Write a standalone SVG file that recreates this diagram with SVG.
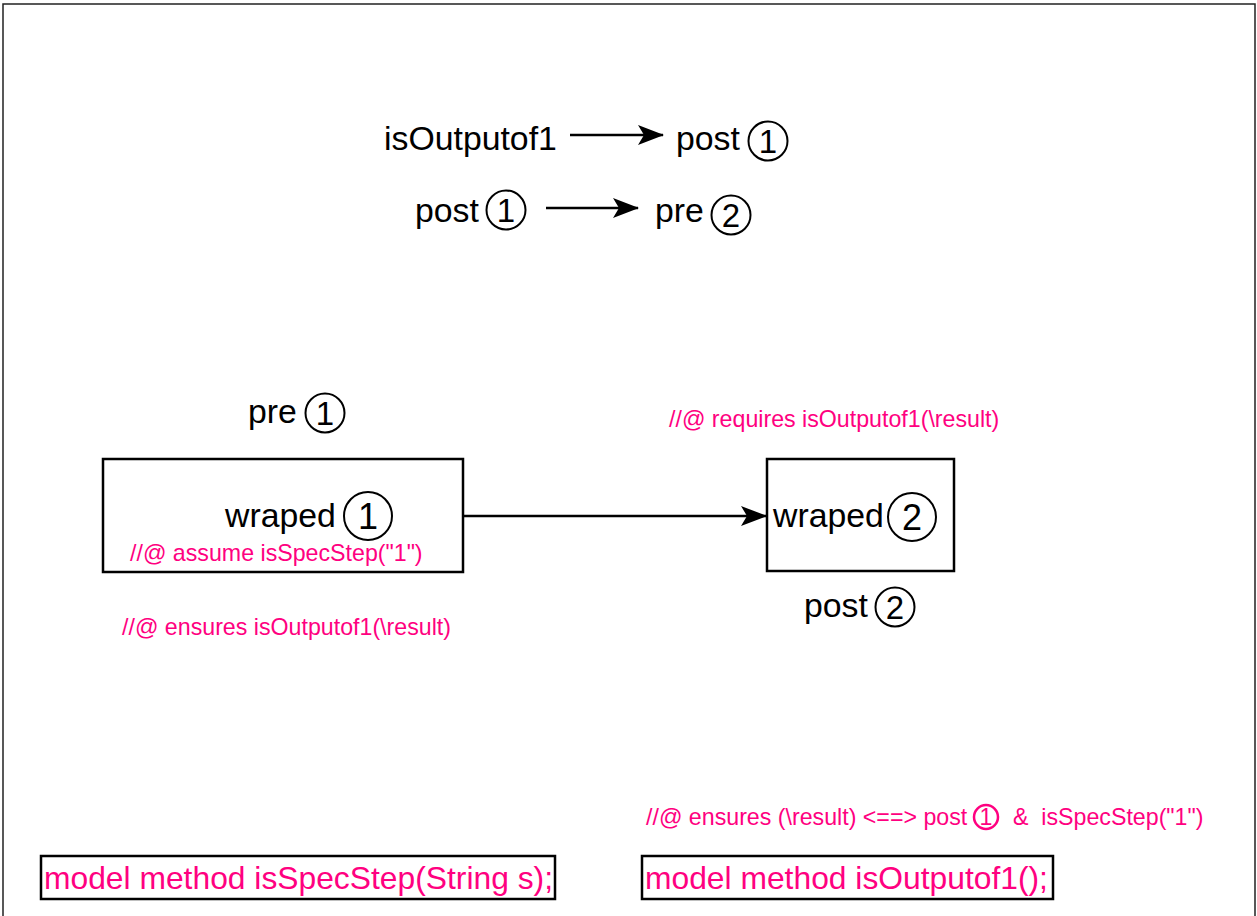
<svg xmlns="http://www.w3.org/2000/svg" width="1257" height="916" viewBox="0 0 1257 916">
  <style>
    .lbl { font-family: "Liberation Sans", Arial, sans-serif; font-size: 33.8px; fill: #000; }
    .num { font-family: "Liberation Sans", Arial, sans-serif; font-size: 33px; fill: #000; text-anchor: middle; }
    .big { font-size: 36px; }
    .spec { font-family: "Liberation Sans", Arial, sans-serif; font-size: 23.2px; fill: #FF0080; }
    .model { font-family: "Liberation Sans", Arial, sans-serif; font-size: 31.8px; fill: #FF0080; }
    .ring { fill: none; stroke: #000; stroke-width: 2; }
    .box { fill: #fff; stroke: #000; stroke-width: 2.5; }
    .edge { fill: none; stroke: #000; stroke-width: 2.5; }
  </style>
  <defs>
    <marker id="arrow" viewBox="0 0 26 22" refX="25" refY="11" markerWidth="26" markerHeight="22" markerUnits="userSpaceOnUse" orient="auto">
      <path d="M0,1 L26,11 L0,21 L6,11 Z" fill="#000"/>
    </marker>
  </defs>

  <rect width="1257" height="916" fill="#fff"/>
  <!-- page frame -->
  <path d="M3,920 V4 H1255 V920" fill="none" stroke="#222" stroke-width="1.5"/>

  <!-- connectors -->
  <g id="connectors">
    <line class="edge" x1="570" y1="135" x2="663" y2="135" marker-end="url(#arrow)"/>
    <line class="edge" x1="546" y1="208" x2="638" y2="208" marker-end="url(#arrow)"/>
    <line class="edge" x1="463" y1="516" x2="766" y2="516" marker-end="url(#arrow)"/>
  </g>

  <!-- implication lines at the top -->
  <g id="rule1">
    <text class="lbl" x="384" y="150">isOutputof1</text>
    <text class="lbl" x="676" y="150">post</text>
    <circle class="ring" cx="768" cy="141" r="19.5"/>
    <text class="num" x="768" y="153">1</text>
  </g>
  <g id="rule2">
    <text class="lbl" x="415" y="222">post</text>
    <circle class="ring" cx="506" cy="210" r="19.5"/>
    <text class="num" x="506" y="222">1</text>
    <text class="lbl" x="655" y="222">pre</text>
    <circle class="ring" cx="731" cy="215" r="19.5"/>
    <text class="num" x="731" y="227">2</text>
  </g>

  <!-- step 1 -->
  <g id="pre1">
    <text class="lbl" x="248" y="423">pre</text>
    <circle class="ring" cx="325" cy="413" r="19.5"/>
    <text class="num" x="325" y="425">1</text>
  </g>
  <g id="wraped1">
    <rect class="box" x="103" y="459" width="360" height="113"/>
    <text class="lbl" x="225" y="527">wraped</text>
    <circle class="ring" cx="368" cy="516" r="24"/>
    <text class="num big" x="368" y="529">1</text>
    <text class="spec" x="130" y="561">//@ assume isSpecStep("1")</text>
  </g>
  <g id="ensures1">
    <text class="spec" x="122" y="635">//@ ensures isOutputof1(\result)</text>
  </g>

  <!-- step 2 -->
  <g id="requires2">
    <text class="spec" x="669" y="427">//@ requires isOutputof1(\result)</text>
  </g>
  <g id="wraped2">
    <rect class="box" x="767" y="459" width="187" height="112"/>
    <text class="lbl" x="773" y="527">wraped</text>
    <circle class="ring" cx="912" cy="517" r="24"/>
    <text class="num big" x="912" y="530">2</text>
  </g>
  <g id="post2">
    <text class="lbl" x="804" y="617">post</text>
    <circle class="ring" cx="895" cy="607" r="19.5"/>
    <text class="num" x="895" y="619">2</text>
  </g>

  <!-- model method declarations -->
  <g id="ensuresModel">
    <text class="spec" x="646" y="825">//@ ensures (\result) &lt;==&gt; post</text>
    <circle cx="986" cy="817" r="12" fill="none" stroke="#FF0080" stroke-width="2.5"/>
    <text class="spec" x="986" y="825" text-anchor="middle" font-size="22">1</text>
    <text class="spec" x="1013" y="825" xml:space="preserve">&amp;  isSpecStep("1")</text>
  </g>
  <g id="modelSpecStep">
    <rect class="box" x="41" y="856" width="514" height="43"/>
    <text class="model" x="44" y="889">model method isSpecStep(String s);</text>
  </g>
  <g id="modelOutputof1">
    <rect class="box" x="642" y="856" width="411" height="43"/>
    <text class="model" x="645" y="889">model method isOutputof1();</text>
  </g>
</svg>
